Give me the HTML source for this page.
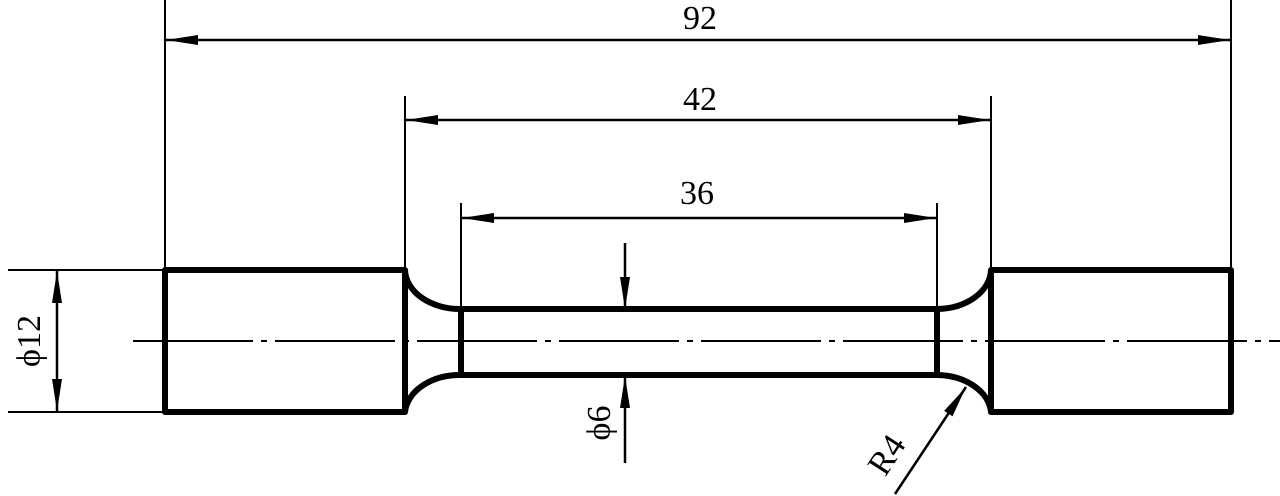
<!DOCTYPE html>
<html><head><meta charset="utf-8"><style>body{margin:0;background:#fff}svg{display:block}</style></head><body>
<svg width="1280" height="496" viewBox="0 0 1280 496" xmlns="http://www.w3.org/2000/svg" font-family="Liberation Serif, serif" font-size="34">
<defs>
<marker id="a" viewBox="0 0 32 10" refX="32" refY="5" markerWidth="32" markerHeight="10" markerUnits="userSpaceOnUse" orient="auto-start-reverse"><path d="M0,0 L32,5 L0,10 Z" fill="#000"/></marker>
</defs>
<g stroke="#000" fill="none">
<!-- extension lines -->
<g stroke-width="2">
<line x1="165" y1="0" x2="165" y2="270"/>
<line x1="1231" y1="0" x2="1231" y2="270"/>
<line x1="405" y1="96" x2="405" y2="270"/>
<line x1="991" y1="96" x2="991" y2="270"/>
<line x1="461" y1="203" x2="461" y2="309"/>
<line x1="937" y1="203" x2="937" y2="309"/>
<line x1="8" y1="270" x2="165" y2="270"/>
<line x1="8" y1="412" x2="165" y2="412"/>
</g>
<!-- dimension lines -->
<g stroke-width="2.5">
<line x1="166" y1="40" x2="1230" y2="40" marker-start="url(#a)" marker-end="url(#a)"/>
<line x1="406" y1="120" x2="990" y2="120" marker-start="url(#a)" marker-end="url(#a)"/>
<line x1="462" y1="218" x2="936" y2="218" marker-start="url(#a)" marker-end="url(#a)"/>
<line x1="57" y1="271" x2="57" y2="411" marker-start="url(#a)" marker-end="url(#a)"/>
<line x1="625" y1="243" x2="625" y2="309" marker-end="url(#a)"/>
<line x1="625" y1="463" x2="625" y2="376" marker-end="url(#a)"/>
<line x1="895" y1="494" x2="966" y2="387" marker-end="url(#a)"/>
</g>
<!-- centerline -->
<line x1="133" y1="341" x2="1280" y2="341" stroke-width="2" stroke-dasharray="120 8 6 8"/>
<!-- part outline -->
<g stroke-width="6" stroke-linejoin="round">
<path d="M165,270 H405 A55,40 0 0 0 461,309 H937 A55,40 0 0 0 991,270 H1231 V412 H991 A55,40 0 0 0 937,375 H461 A55,40 0 0 0 405,412 H165 Z"/>
<line x1="405" y1="270" x2="405" y2="412"/>
<line x1="461" y1="309" x2="461" y2="375"/>
<line x1="937" y1="309" x2="937" y2="375"/>
<line x1="991" y1="270" x2="991" y2="412"/>
</g>
</g>
<g fill="#000" text-anchor="middle">
<text x="700" y="29">92</text>
<text x="700" y="110">42</text>
<text x="697" y="204">36</text>
<text transform="translate(40,341) rotate(-90)">ϕ12</text>
<text transform="translate(610,423) rotate(-90)">ϕ6</text>
<text transform="translate(896,461) rotate(-57)">R4</text>
</g>
</svg>
</body></html>
